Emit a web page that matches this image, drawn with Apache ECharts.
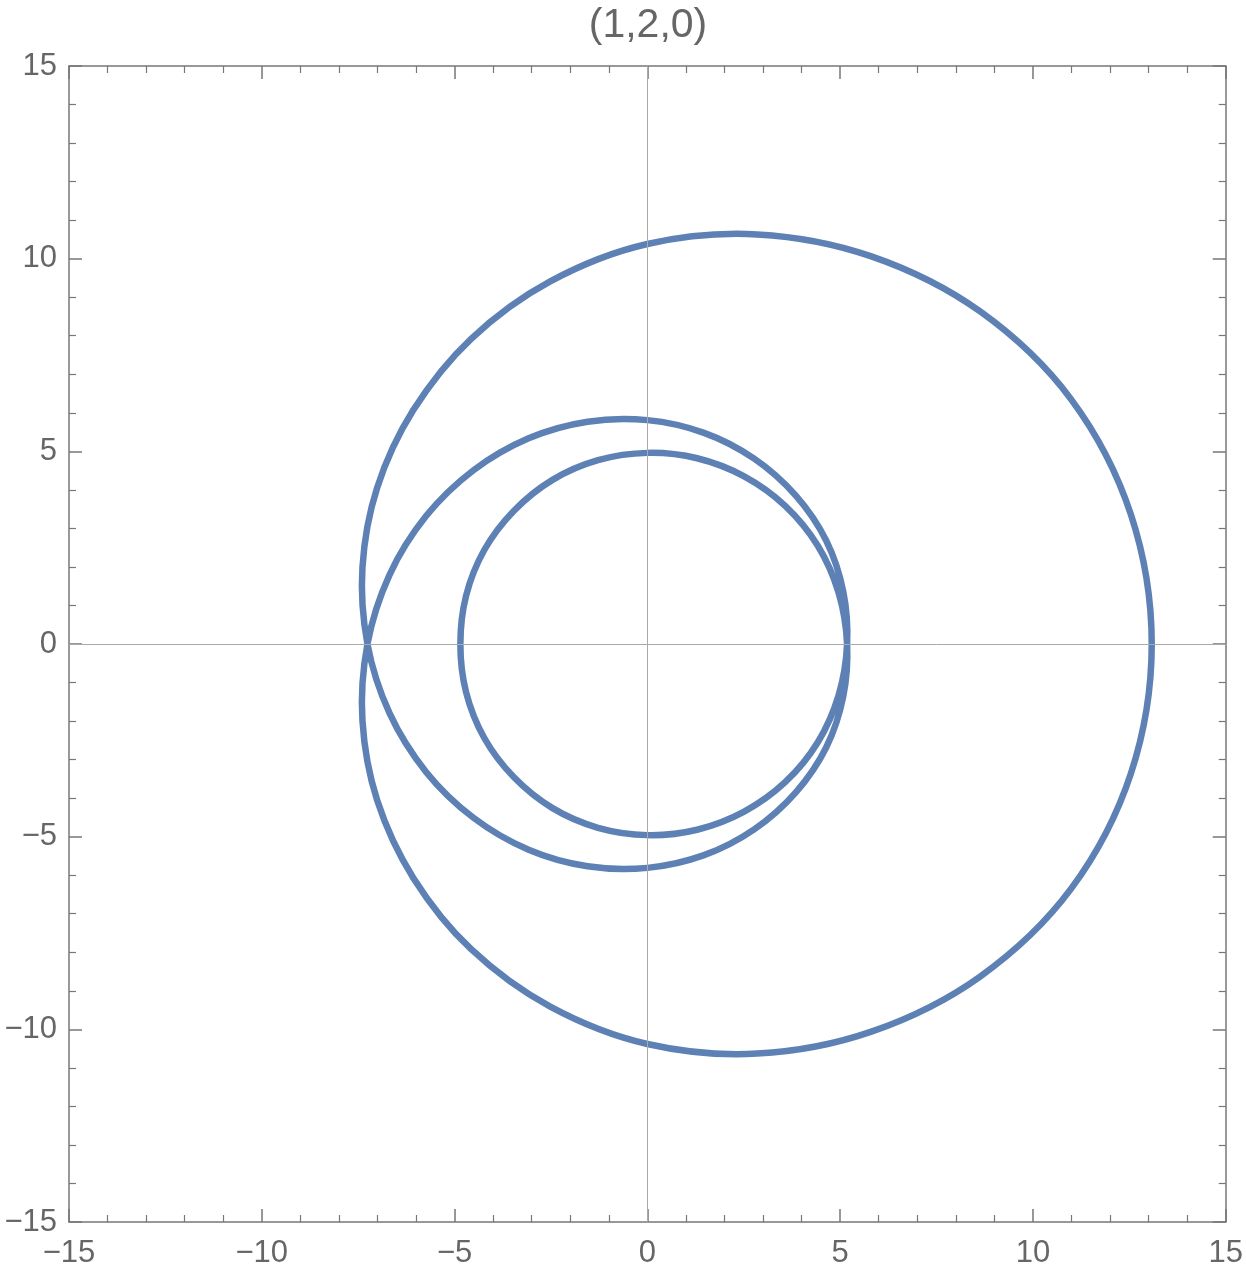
<!DOCTYPE html>
<html>
<head>
<meta charset="utf-8">
<script src="https://cdn.jsdelivr.net/npm/echarts@6/dist/echarts.min.js"></script>
<style>
  html, body { margin: 0; padding: 0; background: #fff; }
  #orbit { width: 1246px; height: 1273px; }
</style>
</head>
<body>
<div id="orbit"></div>
<script>
var chartDom = document.getElementById('orbit');
var myChart = echarts.init(chartDom);
var option;

var titleText = '(1,2,0)';
var tickValues = [-15, -10, -5, 0, 5, 10, 15];

// path, counterclockwise from the far right point
// outer loop, top half
var outerTopX = [13.08, 12.54, 10.99, 8.63, 5.81, 2.85, 0, -2.52, -4.57, -6.07, -7.01, -7.39, -7.26];
var outerTopY = [0, 3.36, 6.35, 8.63, 10.06, 10.63, 10.38, 9.41, 7.92, 6.07, 4.05, 1.98, 0];
// middle loop, bottom half
var middleLowX = [-6.69, -5.74, -4.51, -3.08, -1.55, 0, 1.47, 2.77, 3.85, 4.64, 5.08];
var middleLowY = [-1.79, -3.32, -4.51, -5.34, -5.77, -5.81, -5.48, -4.81, -3.85, -2.68, -1.36];
// inner loop, once round
var innerX = [5.18, 4.96, 4.42, 3.58, 2.51, 1.29, 0, -1.28, -2.46, -3.46, -4.23, -4.70, -4.85,
              -4.70, -4.23, -3.46, -2.46, -1.28, 0, 1.29, 2.51, 3.58, 4.42, 4.96];
var innerY = [0, 1.33, 2.55, 3.58, 4.35, 4.82, 4.96, 4.77, 4.26, 3.46, 2.44, 1.26, 0,
              -1.26, -2.44, -3.46, -4.26, -4.77, -4.96, -4.82, -4.35, -3.58, -2.55, -1.33];
// middle loop, top half
var middleTopX = [5.18, 5.08, 4.64, 3.85, 2.77, 1.47, 0, -1.55, -3.08, -4.51, -5.74, -6.69, -7.26];
var middleTopY = [0, 1.36, 2.68, 3.85, 4.81, 5.48, 5.81, 5.77, 5.34, 4.51, 3.32, 1.79, 0];
// outer loop, bottom half
var outerLowX = [-7.39, -7.01, -6.07, -4.57, -2.52, 0, 2.85, 5.81, 8.63, 10.99, 12.54];
var outerLowY = [-1.98, -4.05, -6.07, -7.92, -9.41, -10.38, -10.63, -10.06, -8.63, -6.35, -3.36];

var pathX = outerTopX.concat(middleLowX, innerX, middleTopX, outerLowX);
var pathY = outerTopY.concat(middleLowY, innerY, middleTopY, outerLowY);
var pathData = [];
for (let i = 0; i < pathX.length; i++) {
    pathData.push([pathX[i], pathY[i]]);
}

var frameColor = '#777';
var labelColor = '#666';
var fontFamily = 'Liberation Sans, Arial, sans-serif';

function fmt(v) {
    return v < 0 ? '\u2212' + (-v) : String(v);
}

function makeAxis(position, showLabel) {
    return {
        type: 'value',
        position: position,
        min: tickValues[0],
        max: tickValues[tickValues.length - 1],
        interval: 5,
        axisLine: { show: true, onZero: false, lineStyle: { color: frameColor, width: 1.5 } },
        axisTick: { show: true, inside: true, length: 13, lineStyle: { color: frameColor, width: 1.5 } },
        minorTick: { show: true, splitNumber: 5, length: 7, lineStyle: { color: frameColor, width: 1.2 } },
        splitLine: { show: false },
        minorSplitLine: { show: false },
        axisLabel: {
            show: showLabel,
            showMinLabel: true,
            showMaxLabel: true,
            margin: position === 'bottom' ? 16 : 12,
            color: labelColor,
            fontSize: 31,
            fontFamily: fontFamily,
            formatter: fmt
        }
    };
}

// closed smooth curve through the points, all mapped with api.coord
function renderOrbit(params, api) {
    if (params.dataIndex !== 0) return null;
    var n = pathData.length;
    var pts = pathData.map(function (p) { return api.coord(p); });
    function dist(a, b) { return Math.hypot(a[0] - b[0], a[1] - b[1]) || 1e-6; }
    var tan = [];
    for (let i = 0; i < n; i++) {
        var p0 = pts[(i - 1 + n) % n], p1 = pts[i], p2 = pts[(i + 1) % n];
        var s = dist(p0, p1) + dist(p1, p2);
        tan.push([(p2[0] - p0[0]) / s, (p2[1] - p0[1]) / s]);
    }
    var d = 'M' + pts[0][0] + ' ' + pts[0][1];
    for (let i = 0; i < n; i++) {
        var a = pts[i], b = pts[(i + 1) % n];
        var L = dist(a, b) / 3;
        var ta = tan[i], tb = tan[(i + 1) % n];
        d += ' C' + (a[0] + ta[0] * L) + ' ' + (a[1] + ta[1] * L) + ' ' +
             (b[0] - tb[0] * L) + ' ' + (b[1] - tb[1] * L) + ' ' + b[0] + ' ' + b[1];
    }
    d += ' Z';
    return {
        type: 'path',
        shape: { pathData: d },
        style: { fill: 'none', stroke: '#5E81B5', lineWidth: 6.5, lineJoin: 'round' }
    };
}

option = {
    backgroundColor: '#fff',
    animation: false,
    title: {
        text: titleText,
        left: 648,
        top: 5,
        textAlign: 'center',
        padding: 0,
        textStyle: {
            color: labelColor,
            fontSize: 41,
            fontWeight: 'normal',
            fontFamily: fontFamily
        }
    },
    grid: { left: 69, right: 20, top: 66, bottom: 51 },
    xAxis: [makeAxis('bottom', true), makeAxis('top', false)],
    yAxis: [makeAxis('left', true), makeAxis('right', false)],
    series: [
        {
            type: 'line',
            data: [],
            markLine: {
                silent: true,
                symbol: 'none',
                label: { show: false },
                lineStyle: { color: '#aaa', width: 1, type: 'solid' },
                data: [{ xAxis: 0 }, { yAxis: 0 }]
            }
        },
        {
            type: 'custom',
            data: pathData,
            renderItem: renderOrbit,
            z: 3
        }
    ]
};

option && myChart.setOption(option);
</script>
</body>
</html>
